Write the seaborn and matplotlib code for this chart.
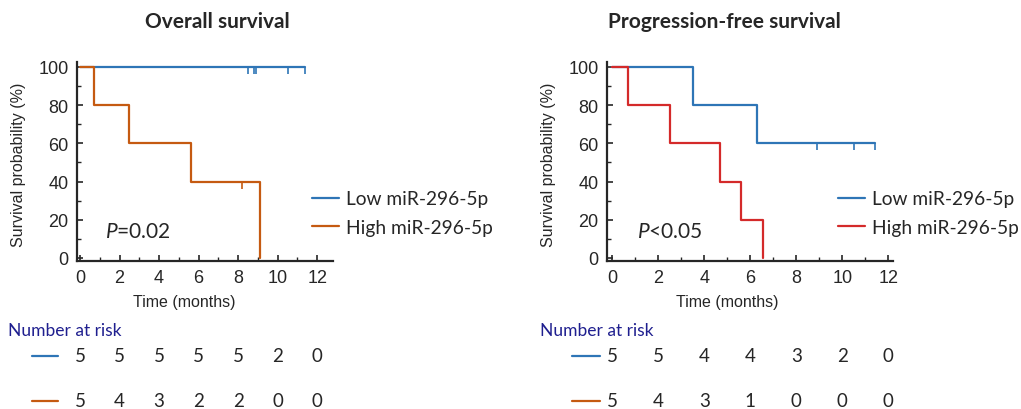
import matplotlib.pyplot as plt
import matplotlib.transforms as mtransforms
from matplotlib.lines import Line2D
from matplotlib.ticker import MultipleLocator
import pandas as pd
import seaborn as sns

# follow-up times (months) and event flags (1 = event, 0 = censored)
os_low_time = [8.5, 8.8, 8.9, 10.5, 11.4]
os_low_event = [0, 0, 0, 0, 0]
os_high_time = [0.7, 2.5, 5.6, 8.2, 9.1]
os_high_event = [1, 1, 1, 0, 1]

pfs_low_time = [3.5, 6.3, 8.9, 10.5, 11.4]
pfs_low_event = [1, 1, 0, 0, 0]
pfs_high_time = [0.7, 2.5, 4.7, 5.6, 6.55]
pfs_high_event = [1, 1, 1, 1, 1]

# number at risk table
risk_times = [0, 2, 4, 6, 8, 10, 12]
os_risk_low = [5, 5, 5, 5, 5, 2, 0]
os_risk_high = [5, 4, 3, 2, 2, 0, 0]
pfs_risk_low = [5, 5, 4, 4, 3, 2, 0]
pfs_risk_high = [5, 4, 3, 1, 0, 0, 0]

group_labels = ["Low miR-296-5p", "High miR-296-5p"]
titles = ["Overall survival", "Progression-free survival"]
p_texts = [r"$\mathit{P}$=0.02", r"$\mathit{P}$<0.05"]

BLUE = "#2e75b6"
ORANGE = "#c55a11"
RED = "#d42a2a"
NAVY = "#1f1f8f"


def km_table(times, events):
    """Kaplan-Meier estimate as step vertices, plus censor points."""
    n = len(times)
    s = 100.0
    xs, ys, cx, cy = [0.0], [100.0], [], []
    for t, e in sorted(zip(times, events)):
        if e:
            s = s * (n - 1) / n
        else:
            cx.append(t)
            cy.append(s)
        xs.append(t)
        ys.append(s)
        n -= 1
    return pd.DataFrame({"time": xs, "surv": ys}), cx, cy


sns.set_style("ticks")
plt.rcParams["font.family"] = ["Liberation Sans", "DejaVu Sans"]
plt.rcParams["mathtext.fontset"] = "custom"
plt.rcParams["mathtext.it"] = "Lato:italic"
plt.rcParams["mathtext.rm"] = "Lato"

fig = plt.figure(figsize=(10.21, 4.10), dpi=100)

panels = [
    dict(rect=[77 / 1021, 148 / 410, 256 / 1021, 199 / 410], xlim=(-0.15, 12.8),
         data=[(os_low_time, os_low_event, BLUE), (os_high_time, os_high_event, ORANGE)],
         risk=[os_risk_low, os_risk_high], title_x=217 / 1021, leg_x=312 / 1021,
         risk_lx=(8, 32, 58), p_xy=(1.27, 14), ylab_x=-0.2),
    dict(rect=[607 / 1021, 148 / 410, 286 / 1021, 199 / 410], xlim=(-0.22, 12.2),
         data=[(pfs_low_time, pfs_low_event, BLUE), (pfs_high_time, pfs_high_event, RED)],
         risk=[pfs_risk_low, pfs_risk_high], title_x=724 / 1021, leg_x=838 / 1021,
         risk_lx=(540, 572, 600), p_xy=(1.09, 14), ylab_x=-0.178),
]

for i, pn in enumerate(panels):
    ax = fig.add_axes(pn["rect"])

    for (times, events, color), label in zip(pn["data"], group_labels):
        df, cx, cy = km_table(times, events)
        sns.lineplot(data=df, x="time", y="surv", drawstyle="steps-post",
                     estimator=None, sort=False, color=color, linewidth=1.6,
                     label=label, ax=ax)
        ax.plot(cx, cy, ls="none", marker=3, markersize=5, mew=1.2, color=color)

    ax.set_xlim(pn["xlim"])
    ax.set_ylim(-1.6, 102.6)
    ax.xaxis.set_major_locator(MultipleLocator(2))
    ax.xaxis.set_minor_locator(MultipleLocator(1))
    ax.yaxis.set_major_locator(MultipleLocator(20))
    ax.yaxis.set_minor_locator(MultipleLocator(10))
    ax.tick_params(which="major", direction="in", length=4, width=1.2,
                   labelsize=13, pad=6)
    ax.tick_params(which="minor", direction="in", length=3, width=1.0)
    for lab in ax.get_xticklabels() + ax.get_yticklabels():
        lab.set_family("Liberation Sans")
    for side in ["top", "right"]:
        ax.spines[side].set_visible(False)
    for side in ["left", "bottom"]:
        ax.spines[side].set_linewidth(1.6)

    ax.set_xlabel("Time (months)", fontsize=11.5)
    ax.xaxis.set_label_coords(0.42, -0.165)
    ax.set_ylabel("Survival probability (%)", fontsize=11.5)
    ax.yaxis.set_label_coords(pn["ylab_x"], 0.49)

    ax.text(pn["p_xy"][0], pn["p_xy"][1], p_texts[i], fontsize=15,
            family="Lato", va="center", ha="left")

    ax.legend(loc="center left", bbox_to_anchor=(pn["leg_x"], 1 - 214 / 410),
              bbox_transform=fig.transFigure, frameon=False,
              prop={"family": "Lato", "size": 13.8}, handlelength=1.4,
              handletextpad=0.36, labelspacing=0.6, borderpad=0,
              borderaxespad=0)

    fig.text(pn["title_x"], 1 - 22 / 410, titles[i], ha="center", va="center",
             fontsize=15, fontweight="bold", family="Lato")

    # number at risk table
    tx, lx0, lx1 = pn["risk_lx"]
    fig.text(tx / 1021, 1 - 331 / 410, "Number at risk", color=NAVY,
             fontsize=12.5, family="Lato", ha="left", va="center")
    trans = mtransforms.blended_transform_factory(ax.transData, fig.transFigure)
    for row_y, counts, color in zip([357, 402], pn["risk"], [BLUE, ORANGE]):
        fy = 1 - row_y / 410
        fig.add_artist(Line2D([lx0 / 1021, lx1 / 1021], [fy, fy], color=color,
                              linewidth=1.6, transform=fig.transFigure))
        for t, c in zip(risk_times, counts):
            ax.text(t, fy, str(c), transform=trans, ha="center", va="center",
                    fontsize=13.5, family="Lato", clip_on=False)

fig.savefig("out.png", dpi=100)
